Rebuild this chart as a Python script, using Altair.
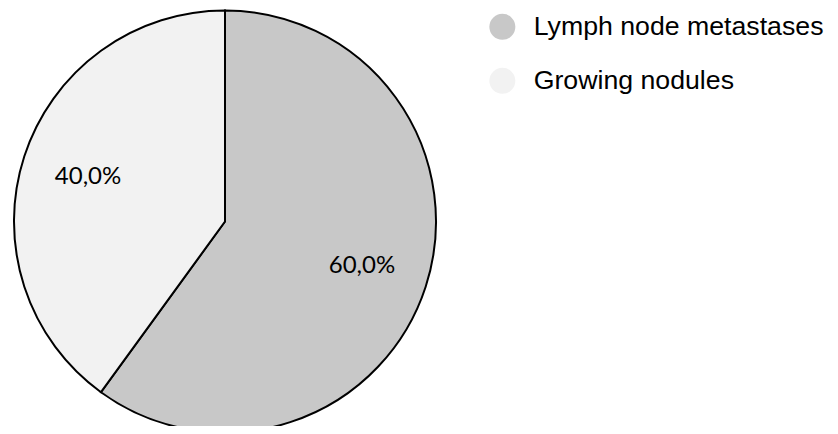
import altair as alt
import pandas as pd

categories = ["Lymph node metastases", "Growing nodules"]
values = [60.0, 40.0]
labels = ["60,0%", "40,0%"]
order = [1, 2]
colors = ["#c8c8c8", "#f2f2f2"]

df = pd.DataFrame({"category": categories, "value": values, "label": labels, "order": order})

base = alt.Chart(df).encode(
    theta=alt.Theta("value:Q", stack=True),
    order=alt.Order("order:Q"),
    x=alt.value(217),
    y=alt.value(213.5),
)

pie = base.mark_arc(radius=211, stroke="black", strokeWidth=2).encode(
    color=alt.Color(
        "category:N",
        scale=alt.Scale(domain=categories, range=colors),
        sort=categories,
        legend=alt.Legend(
            title=None,
            orient="none",
            legendX=481,
            legendY=5.5,
            padding=0,
            symbolType="circle",
            symbolSize=676,
            symbolStrokeWidth=0,
            symbolOpacity=1,
            labelFont="Liberation Sans",
            labelFontSize=26.7,
            labelColor="#000000",
            labelOffset=18,
            rowPadding=26,
            labelLimit=400,
        ),
    )
)

text = base.mark_text(radius=144, font="Lato", fontSize=24, color="#000000").encode(
    text="label:N"
)

chart = (
    alt.layer(pie, text)
    .properties(width=822, height=418, autosize=alt.AutoSizeParams(type="none"), padding=0)
    .configure_view(stroke=None)
)

chart.save("out.html", embed_options={"renderer": "svg", "actions": False})
